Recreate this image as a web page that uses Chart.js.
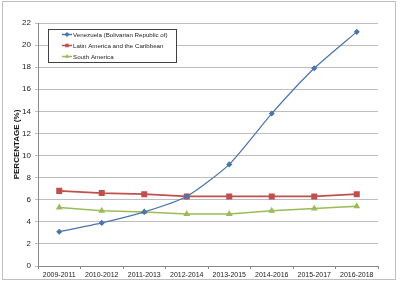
<!DOCTYPE html>
<html>
<head>
<meta charset="utf-8">
<script src="https://cdn.jsdelivr.net/npm/chart.js@4/dist/chart.umd.min.js"></script>
<style>
  body { margin: 0; background: #fff; }
  canvas { display: block; }
</style>
</head>
<body>
<canvas id="lineChart" width="400" height="284"></canvas>
<script>
// periods on the x axis
const periods = ['2009-2011', '2010-2012', '2011-2013', '2012-2014', '2013-2015', '2014-2016', '2015-2017', '2016-2018'];

// prevalence values (%)
const venezuela = [3.1, 3.9, 4.9, 6.3, 9.2, 13.8, 17.9, 21.2];
const latinAmerica = [6.8, 6.6, 6.5, 6.3, 6.3, 6.3, 6.3, 6.5];
const southAmerica = [5.3, 5.0, 4.9, 4.7, 4.7, 5.0, 5.2, 5.4];

const seriesNames = ['Venezuela (Bolivarian Republic of)', 'Latin America and the Caribbean', 'South America'];

const blue = '#4a74ab';
const red = '#c0504d';
const green = '#9bbb59';

// frame round the whole chart
const frame = {
  id: 'frame',
  afterDraw(chart) {
    const ctx = chart.ctx;
    ctx.save();
    ctx.strokeStyle = '#bfbfbf';
    ctx.lineWidth = 1;
    ctx.strokeRect(2.5, 1.5, 393, 278);
    ctx.restore();
  }
};

// legend box drawn inside the plot like the original
const boxLegend = {
  id: 'boxLegend',
  afterDraw(chart) {
    const ctx = chart.ctx;
    ctx.save();
    ctx.fillStyle = '#fff';
    ctx.fillRect(48, 29, 129, 33);
    ctx.strokeStyle = '#404040';
    ctx.lineWidth = 1;
    ctx.strokeRect(48.5, 29.5, 128, 33);
    ctx.font = '6.2px "Liberation Sans", Arial, sans-serif';
    ctx.textBaseline = 'middle';
    const rows = [34.5, 45.5, 56.5];
    chart.data.datasets.forEach((ds, i) => {
      const y = rows[i];
      ctx.strokeStyle = ds.borderColor;
      ctx.lineWidth = 1.5;
      ctx.beginPath();
      ctx.moveTo(62, y);
      ctx.lineTo(72, y);
      ctx.stroke();
      ctx.fillStyle = ds.borderColor;
      Chart.helpers.drawPoint(ctx, { pointStyle: ds.pointStyle, radius: 2.5, rotation: 0, borderWidth: 0 }, 67, y);
      ctx.fillStyle = '#222';
      ctx.fillText(ds.label, 73, y + 0.5);
    });
    ctx.restore();
  }
};

new Chart(document.getElementById('lineChart'), {
  type: 'line',
  data: {
    labels: periods,
    datasets: [
      {
        label: seriesNames[0],
        data: venezuela,
        borderColor: blue,
        backgroundColor: blue,
        borderWidth: 1.2,
        pointStyle: 'rectRot',
        pointRadius: 2.2,
        tension: 0.2
      },
      {
        label: seriesNames[1],
        data: latinAmerica,
        borderColor: red,
        backgroundColor: red,
        borderWidth: 1.8,
        pointStyle: 'rect',
        pointRadius: 3
      },
      {
        label: seriesNames[2],
        data: southAmerica,
        borderColor: green,
        backgroundColor: green,
        borderWidth: 1.5,
        pointStyle: 'triangle',
        pointRadius: 2.5
      }
    ]
  },
  options: {
    responsive: false,
    animation: false,
    layout: { padding: { left: 4, right: 22, top: 23, bottom: 4 } },
    plugins: {
      legend: { display: false },
      tooltip: { enabled: false }
    },
    scales: {
      x: {
        offset: true,
        afterFit: (scale) => { scale.height = 14; },
        grid: { display: true, drawOnChartArea: false, offset: true, tickLength: 3, color: '#888' },
        border: { color: '#888' },
        ticks: { color: '#222', font: { size: 7, family: '"Liberation Sans", Arial, sans-serif' }, maxRotation: 0, padding: 2 }
      },
      y: {
        min: 0,
        max: 22,
        afterFit: (scale) => { scale.width = 34; },
        grid: { color: '#bdbdbd', tickLength: 3 },
        border: { color: '#888' },
        ticks: { stepSize: 2, color: '#222', font: { size: 8, family: '"Liberation Sans", Arial, sans-serif' }, padding: 4 },
        title: {
          display: true,
          text: 'PERCENTAGE (%)',
          color: '#111',
          font: { size: 8, weight: 'bold', family: '"Liberation Sans", Arial, sans-serif' },
          padding: { top: 8, bottom: 0 }
        }
      }
    }
  },
  plugins: [frame, boxLegend]
});
</script>
</body>
</html>
